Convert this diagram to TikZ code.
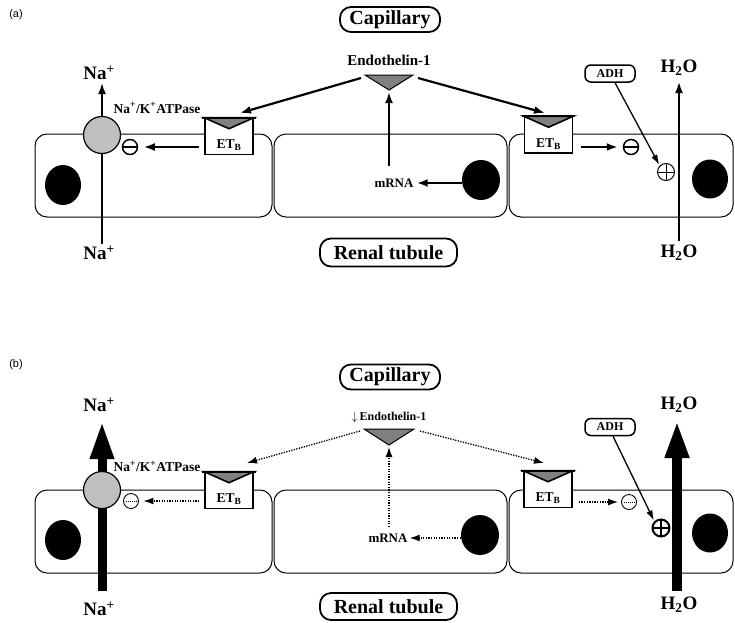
\documentclass[tikz,border=0pt]{standalone}
\usepackage{fontspec}
\setmainfont{Liberation Serif}
\newfontfamily\panelfont{Liberation Sans}
\usetikzlibrary{arrows.meta,shapes.geometric}
\newcommand\fsz[1]{\fontsize{#1}{#1}\selectfont}

\begin{document}
\begin{tikzpicture}[x=1pt,y=-1pt,
  cell/.style={draw, line width=1pt, rounded corners=12pt},
  tag/.style={draw, line width=1.8pt, rounded corners=11pt, inner sep=0pt, font=\bfseries\fsz{20}},
  tagS/.style={draw, line width=1.5pt, rounded corners=6pt, minimum width=50pt, minimum height=17pt, inner sep=0pt, font=\bfseries\fsz{12}},
  ion/.style={font=\bfseries\fsz{19}, inner sep=0pt},
  lbl/.style={font=\bfseries\fsz{13}, inner sep=1pt},
  panel/.style={font=\panelfont\fsz{11}},
  nucleus/.style={ellipse, fill=black, inner sep=0pt},
  pump/.style={circle, draw, line width=1.2pt, fill=gray!50, minimum size=37pt, inner sep=0pt},
  etb/.style={draw, fill=white, line width=1.6pt, minimum width=48pt, minimum height=36pt, inner sep=0pt},
  etbtext/.style={font=\bfseries\fsz{13.5}, inner sep=0pt},
  ligand/.style={fill=gray, draw, line width=1pt},
  arr/.style={line width=2.2pt, -{Latex[length=11pt,width=8pt]}},
  thinarr/.style={line width=1.3pt, -{Latex[length=10pt,width=6.5pt]}},
  dotarr/.style={line width=1.3pt, dash pattern=on 1.3pt off 1.3pt, -{Latex[length=10pt,width=7pt]}},
  bigarr/.style={line width=9pt, -{Triangle[length=38pt,width=22pt]}},
  flowline/.style={line width=1.8pt, -{Latex[length=11pt,width=8pt]}},
  minusA/.style={circle, draw, line width=1.5pt, minimum size=15pt, inner sep=0pt,
    path picture={\draw[line width=1.5pt] (path picture bounding box.west) -- (path picture bounding box.east);}},
  minusB/.style={circle, draw, line width=0.9pt, minimum size=15pt, inner sep=0pt,
    path picture={\draw[line width=1pt, dash pattern=on 1pt off 1pt] ([xshift=2pt]path picture bounding box.west) -- ([xshift=-2pt]path picture bounding box.east);}},
  plusA/.style={circle, draw, line width=1pt, minimum size=17pt, inner sep=0pt,
    path picture={\draw[line width=1pt] (path picture bounding box.west) -- (path picture bounding box.east)
      (path picture bounding box.north) -- (path picture bounding box.south);}},
  plusB/.style={circle, draw, line width=2pt, minimum size=17pt, inner sep=0pt,
    path picture={\draw[line width=2pt] (path picture bounding box.west) -- (path picture bounding box.east)
      (path picture bounding box.north) -- (path picture bounding box.south);}},
]
\useasboundingbox (0,0) rectangle (735,622);

% ================= panel (a): normal state =================
\node[panel] (labA) at (16,15) {(a)};
\node[tag, minimum width=100pt, minimum height=25pt] (capA) at (390,19.5) {Capillary};
\node[font=\bfseries\fsz{15}] (etA) at (389,60) {Endothelin-1};
\coordinate (tLA) at (365,75);
\coordinate (tRA) at (413,75);
\coordinate (tBA) at (389,90);
\filldraw[ligand] (tLA) -- (tRA) -- (tBA) -- cycle;

% tubular cells
\draw[cell] (35,134) rectangle (272,217);
\draw[cell] (274,134) rectangle (507,217);
\draw[cell] (509,134) rectangle (733,217);
\node[nucleus, minimum width=36pt, minimum height=40pt] (n1A) at (63,185) {};
\node[nucleus, minimum width=38pt, minimum height=40pt] (n2A) at (481,180) {};
\node[nucleus, minimum width=36pt, minimum height=39pt] (n3A) at (710,179) {};

% sodium transport through the pump
\node[ion] (naTopA) at (99,73) {Na\textsuperscript{+}};
\node[ion] (naBotA) at (99,253) {Na\textsuperscript{+}};
\coordinate (naInA) at (102,244);
\coordinate (naOutA) at (102,83);
\draw[flowline] (naInA) -- (naOutA);
\node[pump] (pA) at (102,135) {};
\node[font=\bfseries\fsz{13.5}, inner sep=0pt] (atpA) at (157,108) {Na\textsuperscript{+}/K\textsuperscript{+}ATPase};

% ETB receptors
\node[etb] (r1A) at (229,136.5) {};
\filldraw[ligand, line width=1.6pt] (r1A.north west) -- (r1A.north east) -- ([yshift=-11pt]r1A.north) -- cycle;
\draw[line width=2pt] ([xshift=-2pt]r1A.north west) -- ([xshift=2pt]r1A.north east);
\node[etbtext] (e1A) at ([yshift=-9pt]r1A.center) {ET\textsubscript{B}};

\node[etb] (r2A) at (548.5,135) {};
\filldraw[ligand, line width=1.6pt] (r2A.north west) -- (r2A.north east) -- ([yshift=-11pt]r2A.north) -- cycle;
\draw[line width=2pt] ([xshift=-2pt]r2A.north west) -- ([xshift=2pt]r2A.north east);
\node[etbtext] (e2A) at ([yshift=-9pt]r2A.center) {ET\textsubscript{B}};

% inhibition / stimulation marks
\node[minusA] (m1A) at (130,147) {};
\node[minusA] (m2A) at (631,147) {};
\node[plusA] (plA) at (666,172) {};

% endothelin signalling
\node[lbl] (mrA) at (394,183) {mRNA};
\coordinate (upA) at (389,166);
\draw[arr] (upA) -- ([yshift=-2pt]tBA);
\draw[arr, shorten >=2pt] (n2A.west |- mrA) -- (mrA.east);
\coordinate (s1A) at (361,78);
\coordinate (s2A) at (418,78);
\coordinate (d1A) at (240,113);
\coordinate (d2A) at (545,113);
\draw[arr] (s1A) -- (d1A);
\draw[arr] (s2A) -- (d2A);
\draw[arr, shorten <=5pt, shorten >=5.5pt] (r1A.west |- m1A) -- (m1A.east);
\draw[arr, shorten <=8pt, shorten >=5pt] (r2A.east |- m2A) -- (m2A.west);

% ADH and water
\node[tagS] (adhA) at (610,73.5) {ADH};
\draw[thinarr, shorten >=1pt] ([xshift=5pt]adhA.south) -- (plA.north west);
\node[ion] (hTopA) at (679,68) {H\textsubscript{2}O};
\node[ion] (hBotA) at (679,253) {H\textsubscript{2}O};
\coordinate (hInA) at (679,241);
\coordinate (hOutA) at (679,82);
\draw[flowline] (hInA) -- (hOutA);

\node[tag, minimum width=137pt, minimum height=28pt] (rtA) at (388.5,252.5) {Renal tubule};

% ================= panel (b): reduced endothelin =================
\node[panel] (labB) at (16,365) {(b)};
\node[tag, minimum width=100pt, minimum height=25pt] (capB) at (390,377) {Capillary};
\node[font=\bfseries\fsz{12}] (etB) at (389,417) {$\downarrow$\,Endothelin-1};
\coordinate (tLB) at (364,429);
\coordinate (tRB) at (414,429);
\coordinate (tBB) at (389,445);
\filldraw[ligand] (tLB) -- (tRB) -- (tBB) -- cycle;

\draw[cell] (35,490) rectangle (272,573);
\draw[cell] (274,490) rectangle (507,573);
\draw[cell] (509,490) rectangle (733,573);
\node[nucleus, minimum width=36pt, minimum height=40pt] (n1B) at (63,540) {};
\node[nucleus, minimum width=38pt, minimum height=40pt] (n2B) at (480,535) {};
\node[nucleus, minimum width=36pt, minimum height=39pt] (n3B) at (710,533) {};

% enhanced sodium transport
\node[ion] (naTopB) at (99,405) {Na\textsuperscript{+}};
\node[ion] (naBotB) at (99,609) {Na\textsuperscript{+}};
\coordinate (naInB) at (102,591);
\coordinate (naOutB) at (102,421);
\draw[bigarr] (naInB) -- (naOutB);
\node[pump] (pB) at (102,490) {};
\node[font=\bfseries\fsz{13.5}, inner sep=0pt] (atpB) at (157,466) {Na\textsuperscript{+}/K\textsuperscript{+}ATPase};

\node[etb] (r1B) at (229,490.5) {};
\filldraw[ligand, line width=1.6pt] (r1B.north west) -- (r1B.north east) -- ([yshift=-11pt]r1B.north) -- cycle;
\draw[line width=2pt] ([xshift=-2pt]r1B.north west) -- ([xshift=2pt]r1B.north east);
\node[etbtext] (e1B) at ([yshift=-9pt]r1B.center) {ET\textsubscript{B}};

\node[etb] (r2B) at (548,489.5) {};
\filldraw[ligand, line width=1.6pt] (r2B.north west) -- (r2B.north east) -- ([yshift=-11pt]r2B.north) -- cycle;
\draw[line width=2pt] ([xshift=-2pt]r2B.north west) -- ([xshift=2pt]r2B.north east);
\node[etbtext] (e2B) at ([yshift=-9pt]r2B.center) {ET\textsubscript{B}};

\node[minusB] (m1B) at (131,501) {};
\node[minusB] (m2B) at (629,502) {};
\node[plusB] (plB) at (661,528) {};

\node[lbl] (mrB) at (388,538) {mRNA};
\coordinate (upB) at (389,527);
\draw[dotarr] (upB) -- ([yshift=-2pt]tBB);
\draw[dotarr, shorten >=1pt] (n2B.west |- mrB) -- (mrB.east);
\coordinate (s1B) at (360,431);
\coordinate (s2B) at (420,431);
\coordinate (d1B) at (247,463);
\coordinate (d2B) at (544,463);
\draw[dotarr] (s1B) -- (d1B);
\draw[dotarr] (s2B) -- (d2B);
\draw[dotarr, shorten <=5pt, shorten >=4.5pt] (r1B.west |- m1B) -- (m1B.east);
\draw[dotarr, shorten <=6pt, shorten >=3pt] (r2B.east |- m2B) -- (m2B.west);

\node[tagS] (adhB) at (610,427) {ADH};
\draw[thinarr, shorten >=1pt] ([xshift=3pt]adhB.south) -- (plB.north west);
\node[ion] (hTopB) at (679,405) {H\textsubscript{2}O};
\node[ion] (hBotB) at (679,605) {H\textsubscript{2}O};
\coordinate (hInB) at (677,591);
\coordinate (hOutB) at (677,420);
\draw[bigarr, line width=10pt] (hInB) -- (hOutB);

\node[tag, minimum width=137pt, minimum height=27pt] (rtB) at (388.5,606.5) {Renal tubule};
\end{tikzpicture}
\end{document}
